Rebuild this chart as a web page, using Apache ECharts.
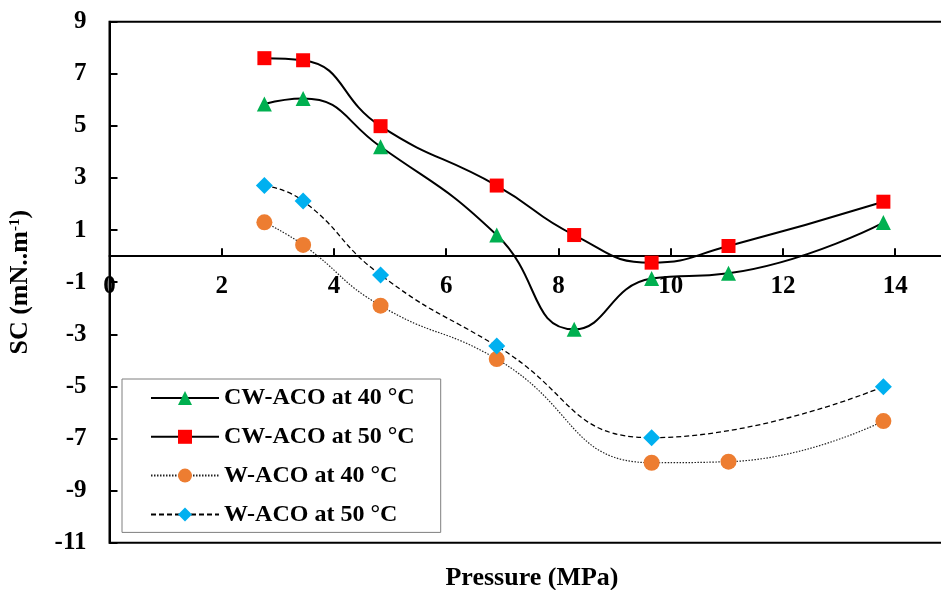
<!DOCTYPE html>
<html>
<head>
<meta charset="utf-8">
<script src="https://cdn.jsdelivr.net/npm/echarts@6/dist/echarts.min.js"></script>
<style>
html,body{margin:0;padding:0;background:#fff;}
#chart{width:941px;height:590px;}
</style>
</head>
<body>
<div id="chart"></div>
<script>
// ---- Data ----
const pressure = [2.76, 3.45, 4.83, 6.9, 8.28, 9.66, 11.03, 13.79];
const cw40 = [5.84, 6.05, 4.2, 0.81, -2.81, -0.86, -0.66, 1.29];
const cw50 = [7.6, 7.52, 4.99, 2.71, 0.81, -0.25, 0.39, 2.09];
const w40 = [1.30, 0.43, -1.90, -3.95, null, -7.93, -7.89, -6.33];
const w50 = [2.71, 2.12, -0.72, -3.45, null, -6.97, null, -5.01];
const seriesNames = ['CW-ACO at 40 °C', 'CW-ACO at 50 °C', 'W-ACO at 40 °C', 'W-ACO at 50 °C'];
const xTickLabels = [0, 2, 4, 6, 8, 10, 12, 14];
const xTickMarks = [2, 4, 6, 8, 10, 12, 14];
const yTickLabels = [-11, -9, -7, -5, -3, -1, 1, 3, 5, 7, 9];
const xAxisTitle = 'Pressure (MPa)';

const Y_MIN = -11, Y_MAX = 9;
const GRID_TOP = 21.7, GRID_BOTTOM = 47.3, CHART_H = 590;

function pairs(arr) {
  return pressure.map((p, i) => [p, arr[i]]).filter(d => d[1] !== null);
}

// x axis sits on the y = 0 line: shift it up from the grid bottom by the y-scale distance
const plotH = CHART_H - GRID_TOP - GRID_BOTTOM;
const zeroOffset = -plotH * (0 - Y_MIN) / (Y_MAX - Y_MIN);

const FONT = 'Liberation Serif';
const chart = echarts.init(document.getElementById('chart'), null, {renderer: 'canvas'});

chart.setOption({
  animation: false,
  backgroundColor: '#ffffff',
  grid: {
    left: 109.5, top: GRID_TOP, bottom: GRID_BOTTOM, right: -3,
    containLabel: false, outerBoundsMode: 'none',
    show: true, borderColor: '#000', borderWidth: 2, backgroundColor: 'transparent'
  },
  xAxis: {
    type: 'value', min: 0, max: 14.87, position: 'bottom', offset: zeroOffset,
    axisLine: {onZero: false, lineStyle: {color: '#000', width: 2}},
    axisTick: {show: true, inside: true, length: 8, customValues: xTickMarks, lineStyle: {color: '#000', width: 2}},
    axisLabel: {customValues: xTickLabels, margin: 18, color: '#000', fontFamily: FONT, fontWeight: 'bold', fontSize: 25},
    splitLine: {show: false}
  },
  yAxis: {
    type: 'value', min: Y_MIN, max: Y_MAX,
    name: '{a|SC (mN..m}{s|-1}{a|)}',
    nameLocation: 'middle', nameRotate: 90, nameGap: 76,
    nameTextStyle: {
      rich: {
        a: {fontFamily: FONT, fontWeight: 'bold', fontSize: 26, color: '#000'},
        s: {fontFamily: FONT, fontWeight: 'bold', fontSize: 15, color: '#000', verticalAlign: 'top', padding: [0, 0, 10, 0]}
      }
    },
    axisLine: {onZero: false, lineStyle: {color: '#000', width: 2}},
    axisTick: {show: true, inside: true, length: 8, customValues: yTickLabels, lineStyle: {color: '#000', width: 2}},
    axisLabel: {customValues: yTickLabels, margin: 23, color: '#000', fontFamily: FONT, fontWeight: 'bold', fontSize: 25},
    splitLine: {show: false}
  },
  legend: {
    orient: 'vertical', left: 122, top: 379,
    padding: [7, 26, 6, 28],
    borderColor: '#7f7f7f', borderWidth: 1, backgroundColor: '#fff',
    itemWidth: 68, itemHeight: 17.5, itemGap: 14.8,
    textStyle: {fontFamily: FONT, fontWeight: 'bold', fontSize: 24, color: '#000', lineHeight: 22},
    data: seriesNames
  },
  graphic: [{
    type: 'text', x: 532, y: 578,
    style: {text: xAxisTitle, align: 'center', verticalAlign: 'middle', font: 'bold 26px "Liberation Serif"', fill: '#000'}
  }],
  series: [
    {
      name: seriesNames[0], type: 'line', data: pairs(cw40), smooth: 0.5,
      symbol: 'triangle', symbolSize: [15, 15],
      lineStyle: {color: '#000', width: 2}, itemStyle: {color: '#00B050'}
    },
    {
      name: seriesNames[1], type: 'line', data: pairs(cw50), smooth: 0.5,
      symbol: 'rect', symbolSize: 14,
      lineStyle: {color: '#000', width: 2}, itemStyle: {color: '#FF0000'}
    },
    {
      name: seriesNames[2], type: 'line', data: pairs(w40), smooth: 0.5,
      symbol: 'circle', symbolSize: 16,
      lineStyle: {color: '#222', width: 1.2, type: [1.5, 1.5]}, itemStyle: {color: '#ED7D31'}
    },
    {
      name: seriesNames[3], type: 'line', data: pairs(w50), smooth: 0.5,
      symbol: 'diamond', symbolSize: 17,
      lineStyle: {color: '#000', width: 1.3, type: [5, 3]}, itemStyle: {color: '#00B0F0'}
    }
  ]
});
</script>
</body>
</html>
